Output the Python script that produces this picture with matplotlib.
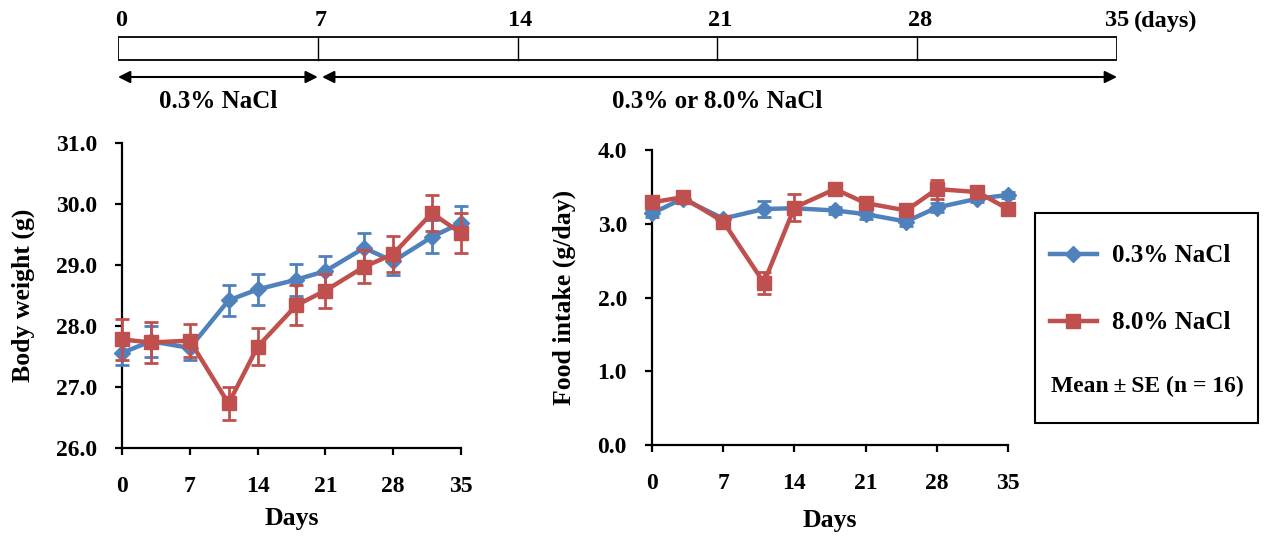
import numpy as np
import matplotlib
matplotlib.use("Agg")
import matplotlib.pyplot as plt
from matplotlib.lines import Line2D
from matplotlib.patches import Rectangle

plt.rcParams['font.family'] = ['Liberation Serif', 'DejaVu Serif']
plt.rcParams['font.weight'] = 'bold'

# data
days = [0, 3, 7, 11, 14, 18, 21, 25, 28, 32, 35]
bw_low = [27.56, 27.75, 27.64, 28.42, 28.60, 28.76, 28.90, 29.28, 29.06, 29.46, 29.69]
bw_low_se = [0.20, 0.25, 0.20, 0.25, 0.25, 0.26, 0.25, 0.25, 0.22, 0.27, 0.27]
bw_high = [27.78, 27.73, 27.76, 26.73, 27.66, 28.34, 28.58, 28.97, 29.18, 29.85, 29.52]
bw_high_se = [0.33, 0.33, 0.27, 0.27, 0.30, 0.33, 0.28, 0.27, 0.30, 0.30, 0.33]
fi_low = [3.14, 3.34, 3.07, 3.20, 3.21, 3.18, 3.13, 3.03, 3.22, 3.34, 3.39]
fi_low_se = [0.05, 0.04, 0.04, 0.11, 0.05, 0.05, 0.06, 0.06, 0.06, 0.05, 0.04]
fi_high = [3.29, 3.36, 3.03, 2.20, 3.22, 3.47, 3.28, 3.18, 3.47, 3.43, 3.20]
fi_high_se = [0.05, 0.04, 0.05, 0.15, 0.18, 0.06, 0.05, 0.05, 0.13, 0.05, 0.05]

xticks = [0, 7, 14, 21, 28, 35]
labels = ['0.3% NaCl', '8.0% NaCl']
blue = '#4F81BD'
red = '#C0504D'

fig = plt.figure(figsize=(12.66, 5.36), dpi=100)

# timeline on top
ax_t = fig.add_axes([118/1266, 1 - 120/536, 999/1266, 120/536])
ax_t.set_xlim(0, 35)
ax_t.set_ylim(120, 0)
ax_t.axis('off')
ax_t.add_patch(Rectangle((0, 37), 35, 23, fill=False, lw=1.3, ec='black'))
for d in xticks:
    if 0 < d < 35:
        ax_t.plot([d, d], [37, 60], color='black', lw=1.0)
    ax_t.text(d + (0.1 if d < 35 else 0), 21, str(d), ha='center', va='center',
              fontsize=17.5, fontweight='bold')
ax_t.text(35.6, 21, '(days)', ha='left', va='center', fontsize=17.5, fontweight='bold')
ax_t.annotate('', xy=(0, 77), xytext=(7, 77),
              arrowprops=dict(arrowstyle='<|-|>', color='black', lw=1.5, mutation_scale=18, shrinkA=0, shrinkB=0))
ax_t.annotate('', xy=(7.15, 77), xytext=(35, 77),
              arrowprops=dict(arrowstyle='<|-|>', color='black', lw=1.5, mutation_scale=18, shrinkA=0, shrinkB=0))
ax_t.text(3.5, 102, '0.3% NaCl', ha='center', va='center', fontsize=18, fontweight='bold')
ax_t.text(21, 102, '0.3% or 8.0% NaCl', ha='center', va='center', fontsize=18, fontweight='bold')


def style(ax, ylim, yticks, ylabel, ylab_x, xlab_y):
    ax.set_xlim(0, 35)
    ax.set_ylim(*ylim)
    ax.set_xticks(xticks)
    ax.set_yticks(yticks)
    ax.set_yticklabels(['%.1f' % v for v in yticks])
    ax.spines['top'].set_visible(False)
    ax.spines['right'].set_visible(False)
    for s in ['left', 'bottom']:
        ax.spines[s].set_linewidth(1.6)
    ax.tick_params(direction='out', length=5, width=1.6, labelsize=17)
    ax.tick_params(axis='y', pad=13)
    ax.tick_params(axis='x', pad=15)
    for t in ax.get_xticklabels() + ax.get_yticklabels():
        t.set_fontweight('bold')
    ax.set_xlabel('Days', fontsize=18.5, fontweight='bold')
    ax.set_ylabel(ylabel, fontsize=18.5, fontweight='bold')
    ax.xaxis.label.set_va('center')
    ax.yaxis.label.set_va('center')
    ax.yaxis.set_label_coords(ylab_x, 0.5)
    ax.xaxis.set_label_coords(0.5, xlab_y)


def draw(ax, y1, e1, y2, e2):
    ax.errorbar(days, y1, yerr=e1, color=blue, lw=3.2, marker='D', ms=8,
                capsize=5, elinewidth=2, capthick=2, clip_on=False, zorder=3)
    ax.errorbar(days, y2, yerr=e2, color=red, lw=3.2, marker='s', ms=10,
                capsize=5, elinewidth=2, capthick=2, clip_on=False, zorder=4)


ax1 = fig.add_axes([122/1266, 1 - 448/536, 339/1266, 305/536])
draw(ax1, bw_low, bw_low_se, bw_high, bw_high_se)
style(ax1, (26.0, 31.0), [26.0, 27.0, 28.0, 29.0, 30.0, 31.0], 'Body weight (g)',
      (23 - 122) / 339, (448 - 518) / 305)

ax2 = fig.add_axes([652/1266, 1 - 445/536, 356/1266, 295/536])
draw(ax2, fi_low, fi_low_se, fi_high, fi_high_se)
style(ax2, (0.0, 4.0), [0.0, 1.0, 2.0, 3.0, 4.0], 'Food intake (g/day)',
      (564 - 652) / 356, (445 - 520) / 295)

# legend box
fig.patches.append(Rectangle((1035/1266, 1 - 423/536), 223/1266, 210/536, transform=fig.transFigure,
                             fill=False, ec='black', lw=1.5))
handles = [Line2D([], [], color=blue, lw=3.2, marker='D', ms=8),
           Line2D([], [], color=red, lw=3.2, marker='s', ms=10)]
fig.legend(handles, labels, loc='upper left', bbox_to_anchor=(1027/1266, 1 - 222/536),
           frameon=False, prop={'size': 18, 'weight': 'bold'}, labelspacing=1.75,
           handlelength=1.9, handletextpad=0.6)
fig.text(1147/1266, 1 - 386/536, 'Mean\u2009\u00b1\u2009SE (n = 16)', ha='center', va='center',
         fontsize=17, fontweight='bold')

fig.savefig('out.png', dpi=100)
